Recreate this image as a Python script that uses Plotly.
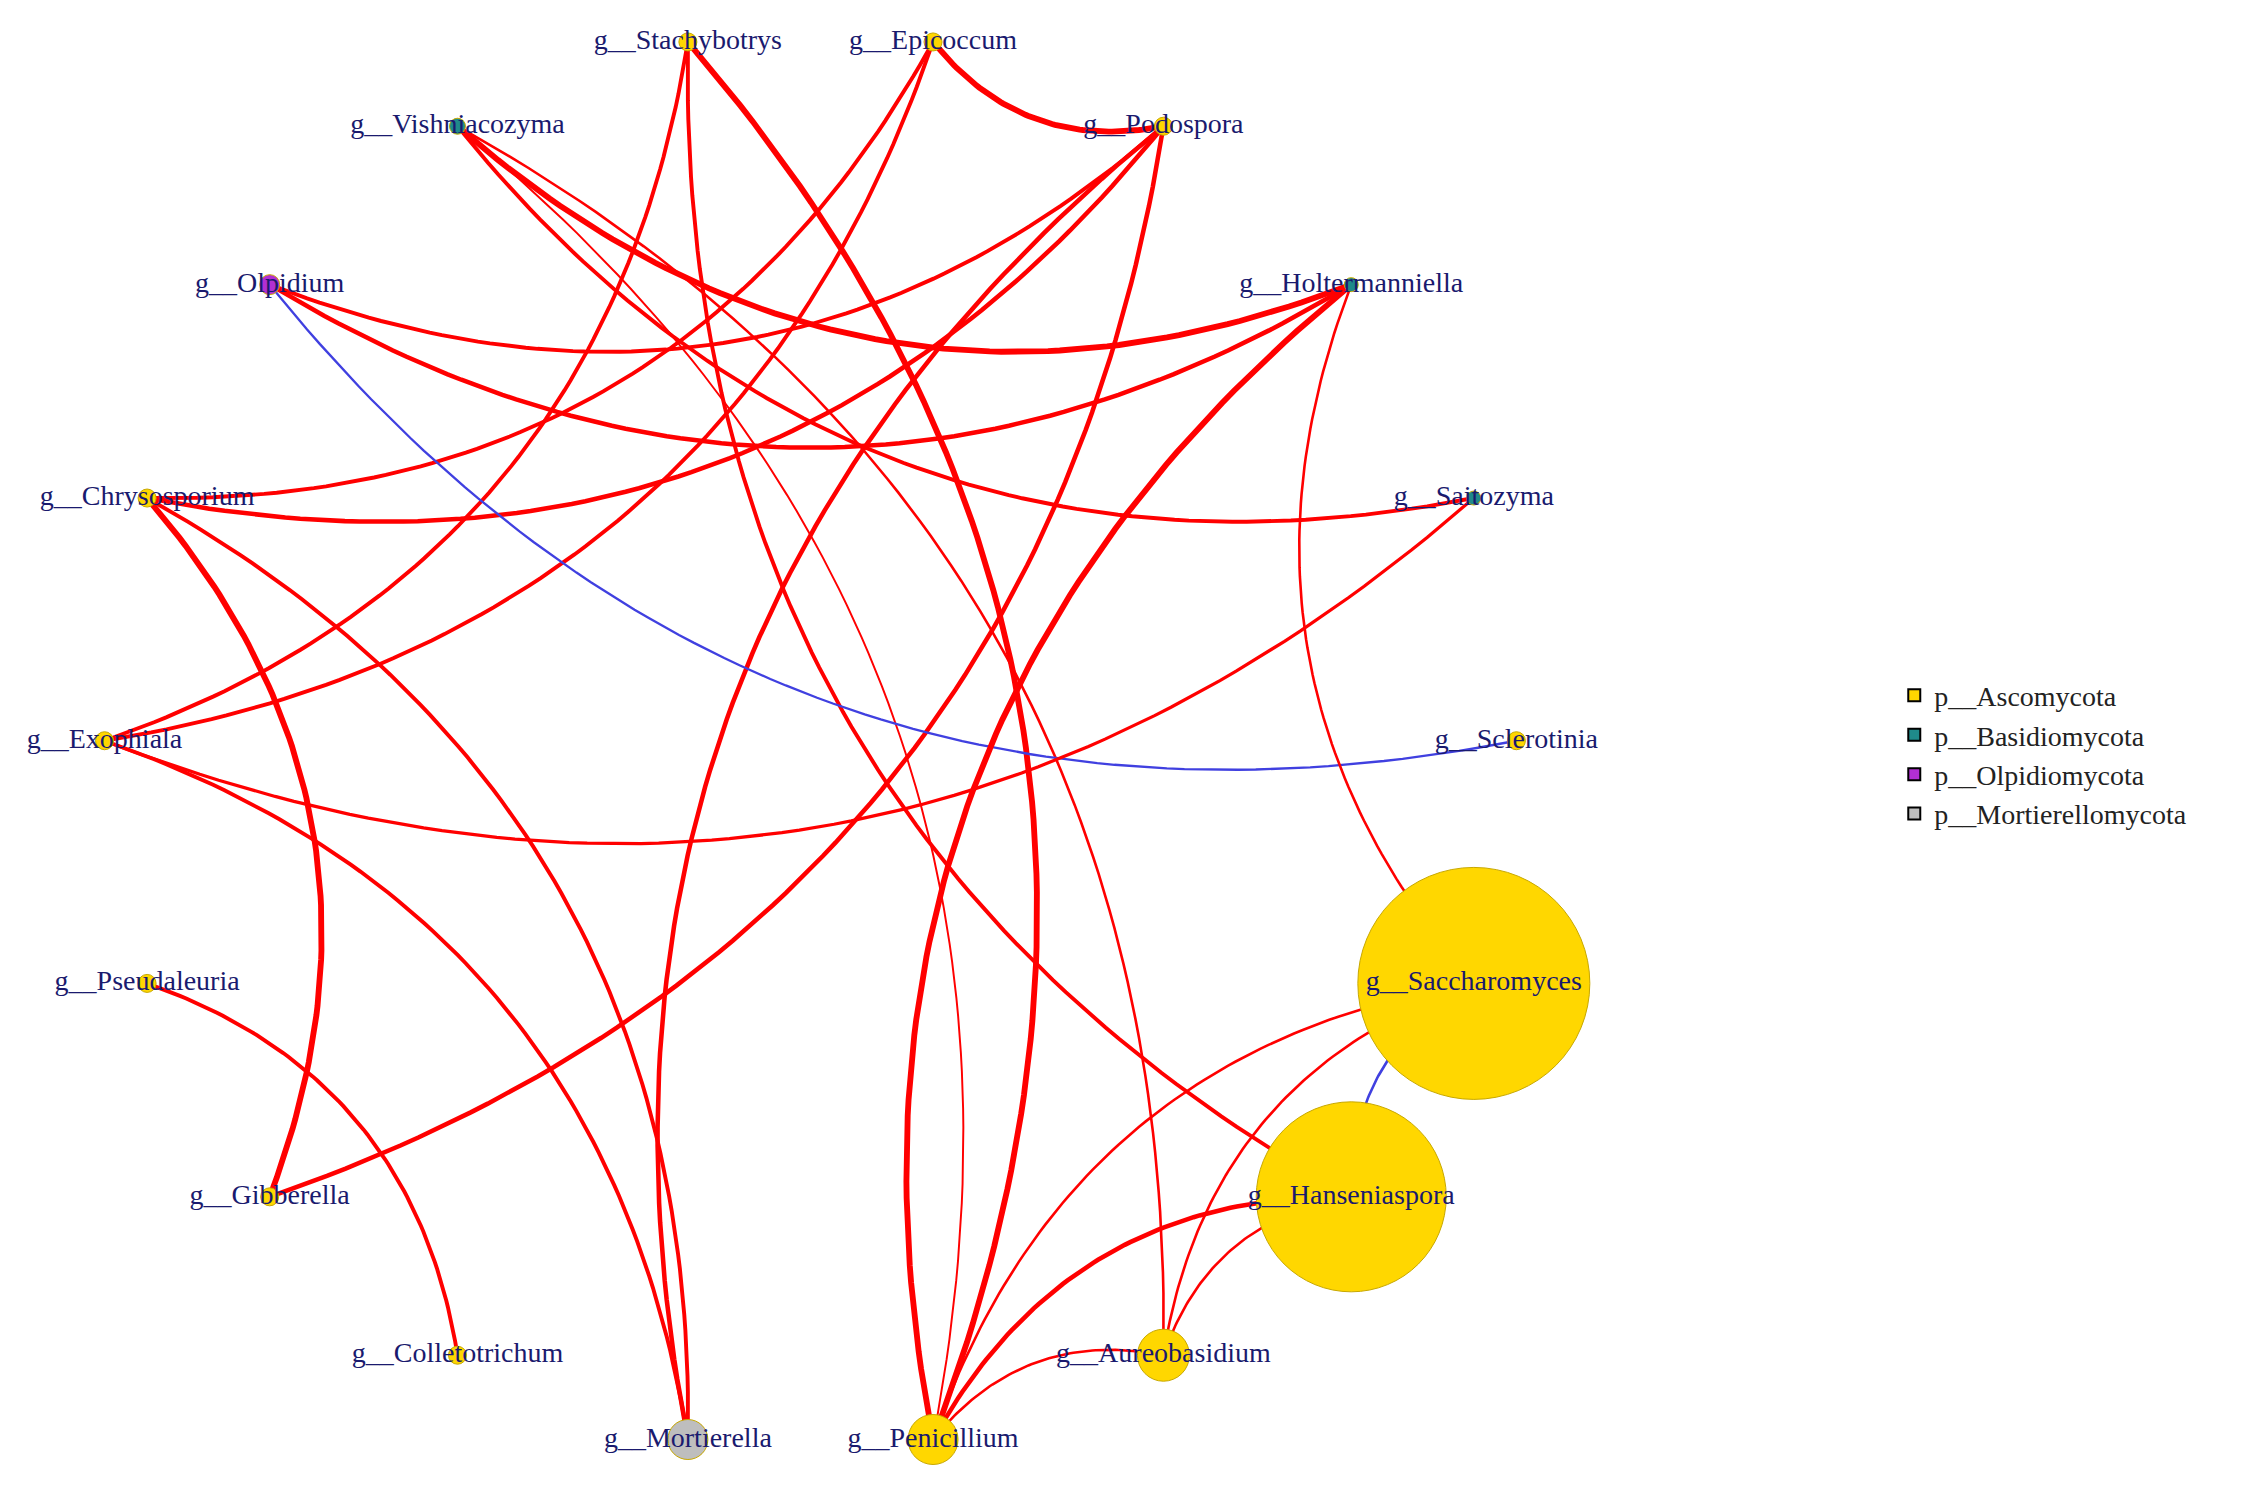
import numpy as np
import plotly.graph_objects as go

nodes = ["Stachybotrys","Epicoccum","Podospora","Holtermanniella","Saitozyma","Sclerotinia",
         "Saccharomyces","Hanseniaspora","Aureobasidium","Penicillium","Mortierella","Colletotrichum",
         "Gibberella","Pseudaleuria","Exophiala","Chrysosporium","Olpidium","Vishniacozyma"]
phylum = ["Asco","Asco","Asco","Basidio","Basidio","Asco","Asco","Asco","Asco","Asco","Mortierello",
          "Asco","Asco","Asco","Asco","Asco","Olpidio","Basidio"]
node_size = [18,18,18,14,14,18,232,190,52,50,40,18,18,18,18,18,20,16]

# (source, target, width, sign)
edges = [
    ("Stachybotrys","Exophiala",3,1),("Stachybotrys","Penicillium",4.5,1),("Stachybotrys","Hanseniaspora",3,1),
    ("Epicoccum","Podospora",4.5,1),("Epicoccum","Exophiala",3,1),("Chrysosporium","Podospora",3.5,1),
    ("Chrysosporium","Epicoccum",3,1),("Podospora","Olpidium",3,1),("Podospora","Gibberella",3.5,1),
    ("Podospora","Mortierella",3.5,1),("Vishniacozyma","Holtermanniella",4.5,1),("Vishniacozyma","Saitozyma",3,1),
    ("Vishniacozyma","Aureobasidium",2,1),("Vishniacozyma","Penicillium",1.5,1),("Olpidium","Holtermanniella",3.5,1),
    ("Olpidium","Sclerotinia",1.8,-1),("Holtermanniella","Penicillium",4.5,1),("Holtermanniella","Saccharomyces",2,1),
    ("Saitozyma","Exophiala",2.5,1),("Chrysosporium","Gibberella",4.5,1),("Chrysosporium","Mortierella",3,1),
    ("Exophiala","Mortierella",3,1),("Pseudaleuria","Colletotrichum",3,1),("Hanseniaspora","Penicillium",3.5,1),
    ("Hanseniaspora","Aureobasidium",2,1),("Saccharomyces","Aureobasidium",2,1),("Aureobasidium","Penicillium",2,1),
    ("Saccharomyces","Penicillium",2,1),("Saccharomyces","Hanseniaspora",2,-1),
]

legend_labels = ["p__Ascomycota","p__Basidiomycota","p__Olpidiomycota","p__Mortierellomycota"]
colors = {"Asco":"#FFD700","Basidio":"#1F8A8A","Olpidio":"#B22FD3","Mortierello":"#BEBEBE"}

cx, cy, r = 557, 506, 490
n = len(nodes)
ang = np.pi/2 + np.pi/18 - np.arange(n)*2*np.pi/n
px = {nm: cx + r*np.cos(a) for nm, a in zip(nodes, ang)}
py = {nm: cy - r*np.sin(a) for nm, a in zip(nodes, ang)}

fig = go.Figure()
t = np.linspace(0, 1, 80)
for s, e, w, sg in edges:
    x0, y0, x1, y1 = px[s], py[s], px[e], py[e]
    mx, my = (x0+x1)/2, (y0+y1)/2
    dx, dy = x1-x0, y1-y0
    L = np.hypot(dx, dy)
    nx, ny = -dy/L, dx/L
    tc = (cx-mx)*nx + (cy-my)*ny
    if tc < -1:
        nx, ny = -nx, -ny
    elif abs(tc) <= 1 and nx < 0:
        nx, ny = -nx, -ny
    kx, ky = mx + 0.3*L*nx, my + 0.3*L*ny
    bx = (1-t)**2*x0 + 2*(1-t)*t*kx + t**2*x1
    by = (1-t)**2*y0 + 2*(1-t)*t*ky + t**2*y1
    fig.add_trace(go.Scatter(x=bx, y=by, mode="lines", showlegend=False, hoverinfo="skip",
                             line=dict(color="#FF0000" if sg > 0 else "#4040E0", width=w*1.3)))

fig.add_trace(go.Scatter(x=[px[k] for k in nodes], y=[py[k] for k in nodes], mode="markers",
                         showlegend=False, opacity=1,
                         marker=dict(size=node_size, color=[colors[p] for p in phylum], opacity=1,
                                     line=dict(color="#C8A800", width=1))))
fig.add_trace(go.Scatter(x=[px[k] for k in nodes], y=[py[k] for k in nodes], mode="text",
                         showlegend=False, text=["g__"+k for k in nodes],
                         textfont=dict(family="Liberation Serif", size=28, color="#1A1A6E")))
for lab, key in zip(legend_labels, ["Asco","Basidio","Olpidio","Mortierello"]):
    fig.add_trace(go.Scatter(x=[None], y=[None], mode="markers", name=lab,
                             marker=dict(symbol="square", size=22, color=colors[key],
                                         line=dict(color="black", width=1.5))))

fig.update_layout(width=2259, height=1506, margin=dict(l=0, r=0, t=0, b=0),
                  plot_bgcolor="white", paper_bgcolor="white",
                  xaxis=dict(range=[0, 1568], visible=False),
                  yaxis=dict(range=[1040, 0], visible=False),
                  legend=dict(x=0.835, y=0.56, xanchor="left", yanchor="top",
                              font=dict(family="Liberation Serif", size=28, color="#222222"),
                              tracegroupgap=0, itemsizing="constant"))
fig.write_html("out.html")
